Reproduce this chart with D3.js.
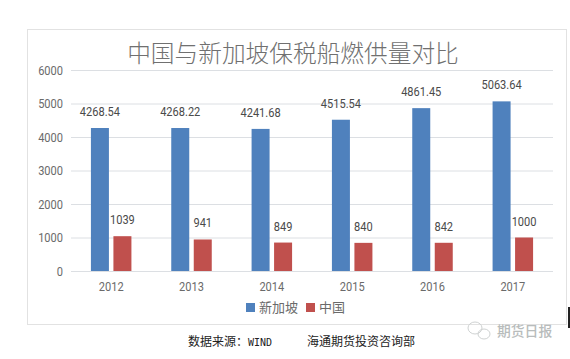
<!DOCTYPE html>
<html>
<head>
<meta charset="utf-8">
<script src="https://cdn.jsdelivr.net/npm/d3@7/dist/d3.min.js"></script>
<style>
  html, body { margin: 0; padding: 0; background: #fff; overflow: hidden; }
  text { font-family: Roboto, "Noto Sans CJK SC", sans-serif; }
  .cjk { font-family: "Noto Sans CJK SC", sans-serif; }
</style>
</head>
<body>
<script>
var years = ['2012', '2013', '2014', '2015', '2016', '2017'];
var singapore = [4268.54, 4268.22, 4241.68, 4515.54, 4861.45, 5063.64];
var china = [1039, 941, 849, 840, 842, 1000];
var yTicks = [0, 1000, 2000, 3000, 4000, 5000, 6000];
var seriesNames = ['新加坡', '中国'];
var seriesColors = ['#4f81bd', '#c0504d'];

var svg = d3.select('body').append('svg')
  .attr('width', 570)
  .attr('height', 359);

// no narrow font here, so squeeze the number labels
function squeeze(sel) {
  sel.each(function() {
    d3.select(this)
      .attr('lengthAdjust', 'spacingAndGlyphs')
      .attr('textLength', this.getComputedTextLength() * 0.85);
  });
}

// chart frame
svg.append('rect')
  .attr('x', 27.5).attr('y', 29.5)
  .attr('width', 539).attr('height', 295)
  .attr('fill', '#fff')
  .attr('stroke', '#e2e2e2');

var x = d3.scaleBand().domain(years).range([71, 553]);
var y = d3.scaleLinear().domain([0, 6000]).range([271, 70]);

// grid
svg.append('g').selectAll('line')
  .data(yTicks)
  .enter()
  .append('line')
  .attr('x1', 71).attr('x2', 553)
  .attr('y1', d => y(d) + 0.5).attr('y2', d => y(d) + 0.5)
  .attr('stroke', '#dcdfe3')
  .attr('stroke-width', 1);

// y axis
var yAxis = svg.append('g')
  .attr('transform', 'translate(63,0)')
  .call(d3.axisLeft(y).tickValues(yTicks).tickFormat(d3.format('d')).tickSize(0).tickPadding(0));
yAxis.select('.domain').remove();
yAxis.selectAll('text')
  .attr('fill', '#6a6a6a')
  .style('font-size', '13px')
  .call(squeeze);

// x axis
var xAxis = svg.append('g')
  .attr('transform', 'translate(0,271)')
  .call(d3.axisBottom(x).tickSize(0).tickPadding(11));
xAxis.select('.domain').remove();
xAxis.selectAll('text')
  .attr('fill', '#6a6a6a')
  .style('font-size', '13px')
  .call(squeeze);

var barW = 18, gap = 4.5;

function drawSeries(values, color, offset) {
  var g = svg.append('g');
  g.selectAll('rect')
    .data(values)
    .enter()
    .append('rect')
    .attr('x', (d, i) => x(years[i]) + x.bandwidth() / 2 + offset)
    .attr('y', d => y(d))
    .attr('width', barW)
    .attr('height', d => y(0) - y(d))
    .attr('fill', color);
  g.selectAll('text')
    .data(values)
    .enter()
    .append('text')
    .attr('x', (d, i) => x(years[i]) + x.bandwidth() / 2 + offset + barW / 2)
    .attr('y', d => y(d) - 12)
    .attr('text-anchor', 'middle')
    .attr('fill', '#4a4a4a')
    .style('font-size', '13px')
    .text(d => d)
    .call(squeeze);
}
drawSeries(singapore, seriesColors[0], -barW - gap / 2);
drawSeries(china, seriesColors[1], gap / 2);

// title
svg.append('text')
  .attr('class', 'cjk')
  .attr('x', 293).attr('y', 62)
  .attr('text-anchor', 'middle')
  .attr('fill', '#707070')
  .style('font-size', '23.7px')
  .style('font-weight', 300)
  .text('中国与新加坡保税船燃供量对比');

// legend
var legendX = [246, 306];
seriesNames.forEach(function(name, i) {
  svg.append('rect')
    .attr('x', legendX[i]).attr('y', 303)
    .attr('width', 9).attr('height', 9)
    .attr('fill', seriesColors[i]);
  svg.append('text')
    .attr('class', 'cjk')
    .attr('x', legendX[i] + 13).attr('y', 312)
    .attr('fill', '#6a6a6a')
    .style('font-size', '13px')
    .text(name);
});

// source line
svg.append('text')
  .attr('class', 'cjk')
  .attr('x', 188).attr('y', 346)
  .attr('fill', '#222')
  .style('font-size', '12px')
  .text('数据来源：');
svg.append('text')
  .attr('x', 248).attr('y', 346)
  .attr('fill', '#222')
  .style('font-family', '"DejaVu Sans Mono", monospace')
  .style('font-size', '10px')
  .text('WIND');
svg.append('text')
  .attr('class', 'cjk')
  .attr('x', 307).attr('y', 346)
  .attr('fill', '#222')
  .style('font-size', '12px')
  .text('海通期货投资咨询部');

// watermark
var mark = svg.append('g')
  .attr('fill', 'none')
  .attr('stroke', '#cfd2d2')
  .attr('stroke-width', 1);
mark.append('ellipse').attr('cx', 475).attr('cy', 328).attr('rx', 7).attr('ry', 6);
mark.append('ellipse').attr('cx', 484).attr('cy', 334).attr('rx', 6).attr('ry', 5);
svg.append('text')
  .attr('class', 'cjk')
  .attr('x', 497).attr('y', 336)
  .attr('fill', '#b8bcbc')
  .style('font-size', '13.8px')
  .style('font-weight', 500)
  .text('期货日报');

// scan edge on the right
svg.append('rect')
  .attr('x', 568).attr('y', 307)
  .attr('width', 2).attr('height', 21)
  .attr('fill', '#222');
</script>
</body>
</html>
